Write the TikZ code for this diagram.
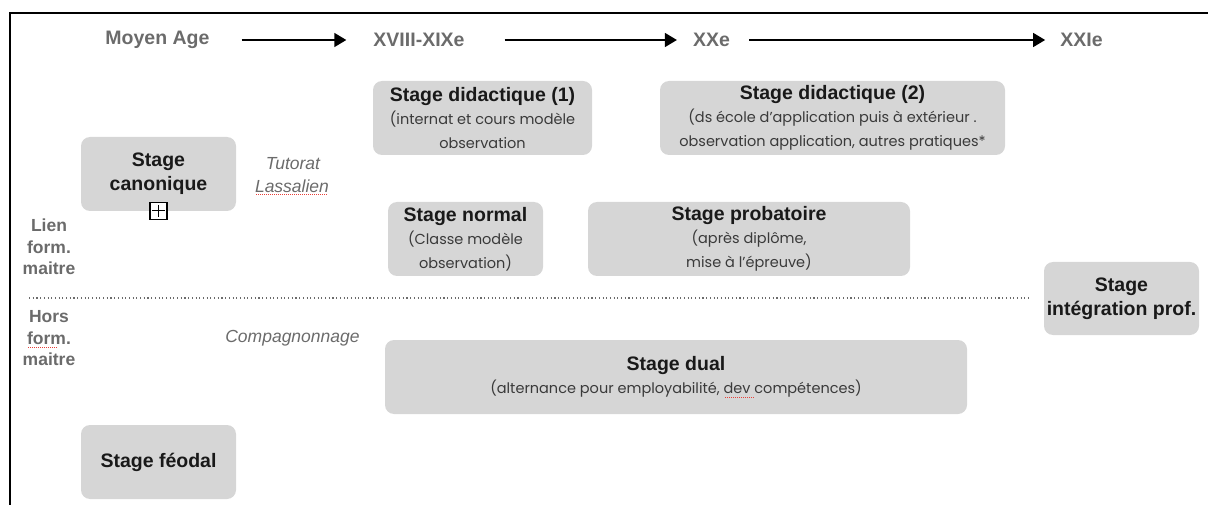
\documentclass[tikz,border=0pt]{standalone}
\usepackage{fontspec}
\setmainfont{Liberation Sans}
\newfontfamily\gothic{Poppins}
\usetikzlibrary{arrows.meta,positioning}

\definecolor{boxgray}{HTML}{D6D6D6}
\definecolor{labgray}{HTML}{6B6B6B}
\definecolor{subgray}{HTML}{3A3A3A}
\definecolor{spellred}{HTML}{E8403A}
\newcommand{\subtxt}[1]{{\normalfont\gothic\fontsize{14.5}{22}\selectfont\color{subgray}#1}}

\tikzset{
  stagebox/.style={fill=boxgray, rounded corners=9pt, align=center, inner sep=0pt,
    text=black!90, font=\bfseries\fontsize{19.5}{24}\selectfont},
  period/.style={text=labgray, font=\bfseries\fontsize{19.5}{22}\selectfont, inner sep=0pt},
  side/.style={text=labgray, font=\bfseries\fontsize{17.5}{20.5}\selectfont, inner sep=0pt},
  note/.style={text=labgray, font=\itshape\fontsize{17.5}{21}\selectfont, inner sep=0pt},
  timeline/.style={-{Triangle[length=12pt,width=14pt]}, line width=1.5pt},
  spell/.style={spellred, line width=0.9pt, dash pattern=on 1pt off 1pt},
}

\begin{document}
\begin{tikzpicture}[x=1pt, y=-1pt]
    \useasboundingbox (0,0) rectangle (1208,505);

    % Frame
    \draw[line width=2pt] (10,505) -- (10,13) -- (1208,13);

    % Periods
    \node[period] (moyen) at (157.5,40) {Moyen Age};
    \node[period] (xviii) at (419,40) {XVIII-XIXe};
    \node[period] (xx) at (711.5,40) {XXe};
    \node[period] (xxi) at (1081.5,40) {XXIe};
    \draw[timeline, shorten <=32pt, shorten >=27pt] (moyen) -- (xviii);
    \draw[timeline, shorten <=40pt, shorten >=16pt] (xviii) -- (xx);
    \draw[timeline, shorten <=19pt, shorten >=15pt] (xx) -- (xxi);

    % Stages
    \node[stagebox, minimum width=219pt, minimum height=74pt] (did1) at (482.5,118)
        {Stage didactique (1)\\[-1pt] \subtxt{(internat et cours modèle}\\ \subtxt{observation}};
    \node[stagebox, minimum width=345pt, minimum height=74pt] (did2) at (832.5,118)
        {Stage didactique (2)\\[-1pt] \subtxt{(ds école d’application puis à extérieur .}\\ \subtxt{observation application, autres pratiques*}};
    \node[stagebox, minimum width=155pt, minimum height=74pt] (canon) at (158.5,174)
        {Stage\\ canonique};
    \node[stagebox, minimum width=155pt, minimum height=74pt] (normal) at (465.5,239)
        {Stage normal\\[-1pt] \subtxt{(Classe modèle}\\ \subtxt{observation)}};
    \node[stagebox, minimum width=322pt, minimum height=74pt] (proba) at (749,239)
        {Stage probatoire\\[-1pt] \subtxt{(après diplôme,}\\ \subtxt{mise à l’épreuve)}};
    \node[stagebox, minimum width=155pt, minimum height=73pt] (integ) at (1121.5,298.5)
        {Stage\\ intégration prof.};
    \node[stagebox, minimum width=582pt, minimum height=74pt] (dual) at (676,377)
        {Stage dual\\[-1pt] \subtxt{(alternance pour employabilité, dev compétences)}};
    \node[stagebox, minimum width=155pt, minimum height=74pt] (feodal) at (158.5,462)
        {Stage féodal};

    % Expand mark
    \node[draw, fill=white, line width=1.2pt, minimum size=17pt, inner sep=0pt] (expand) at (158.5,211) {};
    \draw[line width=1pt] ([yshift=-3pt]expand.north) -- ([yshift=3pt]expand.south);
    \draw[line width=1pt] ([xshift=3pt]expand.west) -- ([xshift=-3pt]expand.east);

    % Notes
    \node[note] (tutorat) at (293,164) {Tutorat};
    \node[note] (lassal) at (292,186) {Lassalien};
    \node[note] (compa) at (292.5,338) {Compagnonnage};

    % Side labels
    \node[side] (lien) at (49,225) {Lien};
    \node[side] (formA) at (49,247) {form.};
    \node[side] (maitreA) at (49,268) {maitre};
    \node[side] (hors) at (49,317) {Hors};
    \node[side] (formB) at (49,338) {form.};
    \node[side] (maitreB) at (49,359) {maitre};

    % Separator
    \draw[labgray, line width=1.1pt, dash pattern=on 1.1pt off 2.6pt] (29,298) -- (1030,298);

    % Spell marks
    \draw[spell] (256,194) -- (328,194);
    \draw[spell] (28,347) -- (57,347);
    \draw[spell] (725,397) -- (754,397);
\end{tikzpicture}
\end{document}
